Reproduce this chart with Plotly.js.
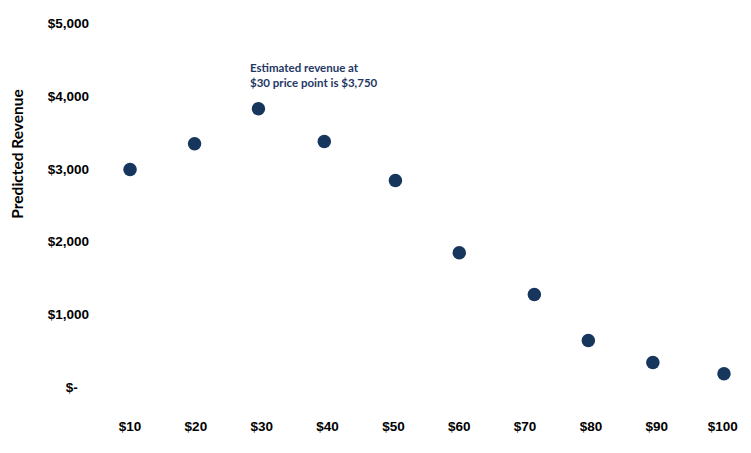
<!DOCTYPE html>
<html>
<head>
<meta charset="utf-8">
<script src="https://cdn.plot.ly/plotly-3.0.1.min.js"></script>
<style>html,body{margin:0;padding:0;background:#fff;}#chart{width:751px;height:453px;}</style>
</head>
<body>
<div id="chart"></div>
<script>
// Data
const prices = [10, 19.8, 29.5, 39.5, 50.3, 60, 71.4, 79.6, 89.4, 100.2];
const revenue = [2990, 3345, 3825, 3375, 2840, 1850, 1275, 645, 345, 190];
const xTickVals = [10, 20, 30, 40, 50, 60, 70, 80, 90, 100];
const xTickText = ['$10', '$20', '$30', '$40', '$50', '$60', '$70', '$80', '$90', '$100'];
const yTickVals = [0, 1000, 2000, 3000, 4000, 5000];
const yTickText = ['$-\u00a0\u00a0\u00a0', '$1,000', '$2,000', '$3,000', '$4,000', '$5,000'];
const noteText = 'Estimated revenue at<br>$30 price point is $3,750';
const yTitle = 'Predicted Revenue';

const navy = '#17365D';
const tickFont = {family: 'Arial', size: 13.5, color: '#000000', weight: 'bold'};

const trace = {
  x: prices,
  y: revenue,
  type: 'scatter',
  mode: 'markers',
  marker: {color: navy, size: 13.5, line: {width: 0}},
  hoverinfo: 'x+y'
};

const layout = {
  width: 751,
  height: 453,
  margin: {l: 90, r: 2, t: 23, b: 37},
  paper_bgcolor: '#ffffff',
  plot_bgcolor: '#ffffff',
  showlegend: false,
  font: {family: 'Arial'},
  xaxis: {
    range: [3.92, 104],
    tickvals: xTickVals,
    ticktext: xTickText,
    showgrid: false,
    zeroline: false,
    showline: false,
    ticks: '',
    tickfont: tickFont
  },
  yaxis: {
    range: [-390, 5000],
    tickvals: yTickVals,
    ticktext: yTickText,
    showgrid: false,
    zeroline: false,
    showline: false,
    ticks: '',
    tickfont: tickFont
  },
  annotations: [
    {
      text: noteText,
      xref: 'x', yref: 'y',
      x: 28.1, y: 4490,
      xanchor: 'left', yanchor: 'top',
      align: 'left',
      showarrow: false,
      borderpad: 0,
      font: {family: 'Lato', size: 11.5, color: '#1F3864', weight: 'bold'}
    },
    {
      text: yTitle,
      xref: 'paper', yref: 'paper',
      x: -0.111, y: 0.667,
      xanchor: 'center', yanchor: 'middle',
      textangle: -90,
      showarrow: false,
      font: {family: 'Lato', size: 15.5, color: '#000000', weight: 'bold'}
    }
  ]
};

Plotly.newPlot('chart', [trace], layout, {displayModeBar: false, staticPlot: true});
</script>
</body>
</html>
